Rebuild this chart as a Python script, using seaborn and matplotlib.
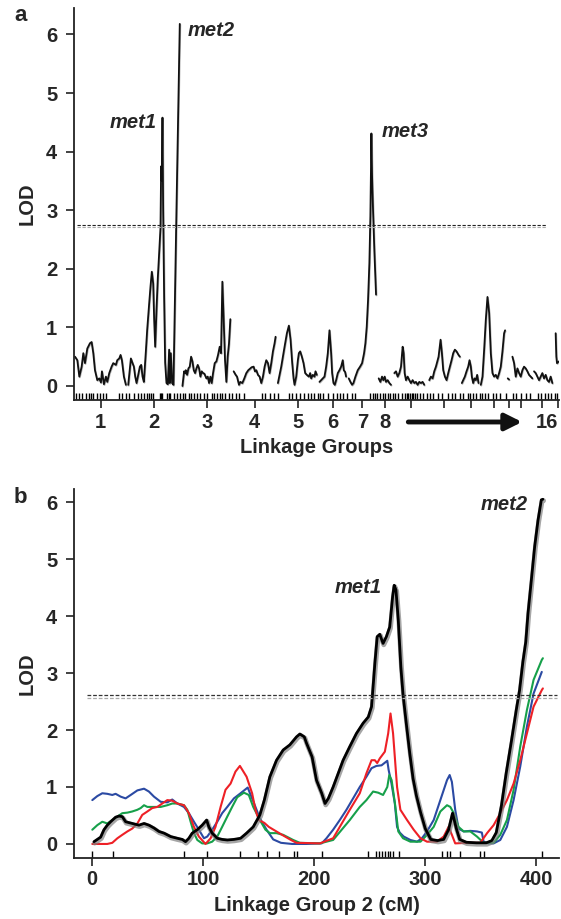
import pandas as pd
import matplotlib
matplotlib.use('Agg')
import matplotlib.pyplot as plt
import matplotlib.patheffects as pe
import seaborn as sns

# ---- panel a: genome scan, positions are cumulative map units ----
lg_pos = [
    [3, 10, 16, 23, 28, 33, 40, 48, 53, 58, 63, 70, 76, 81, 84, 90, 96, 100, 106, 113, 118, 126, 130, 136, 140, 144, 150, 156],
    [163, 168, 171, 176, 180, 184, 188, 192, 198, 202, 206, 210, 216, 220, 226, 230, 234, 238, 241, 244, 248, 252, 256, 260,
     262, 264, 266, 268, 271, 274, 278, 282, 286, 288, 291, 295, 299, 308, 318],
    [326, 331, 334, 336, 340, 344, 348, 352, 356, 360, 364, 368, 372, 376, 380, 384, 388, 392, 398, 402, 406, 410, 414, 418,
     423, 428, 433, 438, 442, 446, 450, 454, 458, 462, 466, 470],
    [480, 486, 490, 496, 500, 506, 512, 518, 524, 530, 534, 540, 544, 548, 553, 558, 563, 568, 573, 578, 583, 588, 593, 598, 603, 606],
    [613, 623, 633, 640, 646, 651, 656, 660, 663, 668, 673, 676, 680, 685, 690, 695, 700, 706, 710, 713, 718, 723, 726, 730],
    [738, 743, 748, 753, 758, 763, 768, 773, 776, 780, 784, 788, 793, 798, 803, 808, 811, 815, 818],
    [826, 831, 836, 840, 846, 853, 860, 866, 872, 876, 880, 884, 888, 891, 893, 894, 896, 897, 899, 903, 908],
    [916, 921, 926, 930, 934, 938, 943, 948, 953],
    [963, 968, 973, 978, 983, 988, 991, 994, 998, 1003, 1008, 1013, 1018, 1023, 1028, 1033, 1038, 1043, 1048, 1053],
    [1068, 1073, 1078, 1083, 1088, 1096, 1102, 1106, 1110, 1115, 1120, 1125, 1130, 1135, 1140, 1145, 1150, 1156, 1160],
    [1166, 1170, 1175, 1180, 1185, 1189, 1193, 1196, 1200, 1204, 1208, 1212, 1216],
    [1223, 1228, 1233, 1238, 1243, 1248, 1253, 1258, 1263, 1268, 1273, 1278, 1283, 1288, 1293, 1296],
    [1304, 1308],
    [1318, 1323, 1328, 1333, 1338, 1343, 1348, 1353, 1358, 1363, 1368, 1373, 1378],
    [1383, 1388, 1393, 1398, 1403, 1408, 1413, 1418, 1423, 1428, 1433, 1438],
    [1448, 1450, 1452, 1458],
]
lg_lod = [
    [0.50, 0.44, 0.16, 0.33, 0.56, 0.39, 0.64, 0.73, 0.75, 0.56, 0.27, 0.10, 0.13, 0.06, 0.25, 0.03, 0.16, 0.07, 0.22, 0.33,
     0.39, 0.36, 0.44, 0.47, 0.53, 0.44, 0.16, 0.02],
    [0.02, 0.30, 0.47, 0.39, 0.33, 0.16, 0.05, 0.16, 0.33, 0.36, 0.16, 0.07, 0.59, 0.96, 1.41, 1.70, 1.95, 1.75, 1.13, 0.67,
     1.30, 1.85, 2.27, 2.70, 3.75, 3.50, 4.58, 3.00, 1.50, 0.40, 0.05, 0.03, 0.62, 0.05, 0.56, 0.05, 0.02, 3.00, 6.18],
    [0.00, 0.25, 0.22, 0.27, 0.19, 0.30, 0.33, 0.50, 0.42, 0.27, 0.22, 0.30, 0.36, 0.30, 0.16, 0.25, 0.22, 0.21, 0.13, 0.16,
     0.05, 0.16, 0.05, 0.22, 0.39, 0.42, 0.53, 0.67, 0.56, 1.78, 1.12, 0.44, 0.07, 0.50, 0.73, 1.14],
    [0.25, 0.19, 0.16, 0.02, 0.07, 0.05, 0.13, 0.22, 0.27, 0.30, 0.32, 0.33, 0.25, 0.27, 0.19, 0.16, 0.05, 0.16, 0.33, 0.44,
     0.39, 0.22, 0.39, 0.59, 0.73, 0.84],
    [0.05, 0.33, 0.67, 0.90, 1.03, 0.79, 0.39, 0.13, 0.02, 0.16, 0.44, 0.56, 0.59, 0.50, 0.39, 0.22, 0.19, 0.16, 0.22, 0.13,
     0.19, 0.16, 0.25, 0.19],
    [0.07, 0.10, 0.13, 0.16, 0.33, 0.56, 0.95, 0.56, 0.22, 0.05, 0.02, 0.10, 0.22, 0.27, 0.33, 0.44, 0.27, 0.24, 0.16],
    [0.13, 0.07, 0.02, 0.05, 0.16, 0.27, 0.33, 0.39, 0.56, 0.73, 1.01, 1.47, 2.10, 2.90, 3.80, 4.31, 3.60, 3.37, 3.00, 2.30, 1.56],
    [0.13, 0.07, 0.16, 0.10, 0.16, 0.07, 0.10, 0.05, 0.02],
    [0.22, 0.25, 0.16, 0.22, 0.33, 0.67, 0.56, 0.22, 0.10, 0.16, 0.10, 0.05, 0.10, 0.05, 0.07, 0.02, 0.07, 0.05, 0.07, 0.02],
    [0.10, 0.16, 0.13, 0.25, 0.33, 0.50, 0.79, 0.56, 0.27, 0.16, 0.10, 0.22, 0.33, 0.44, 0.56, 0.62, 0.59, 0.53, 0.50],
    [0.05, 0.10, 0.16, 0.25, 0.33, 0.44, 0.33, 0.16, 0.05, 0.13, 0.10, 0.19, 0.05],
    [0.02, 0.16, 0.62, 1.13, 1.52, 1.25, 0.56, 0.22, 0.16, 0.19, 0.13, 0.22, 0.33, 0.59, 0.90, 0.95],
    [0.13, 0.11],
    [0.50, 0.39, 0.16, 0.30, 0.22, 0.16, 0.27, 0.33, 0.30, 0.25, 0.19, 0.16, 0.13],
    [0.25, 0.22, 0.16, 0.10, 0.16, 0.22, 0.13, 0.19, 0.10, 0.07, 0.16, 0.05],
    [0.90, 0.50, 0.39, 0.42],
]
lg_centres = [80, 240, 400, 543, 672, 779, 867, 935, 1012, 1112, 1195, 1262, 1307, 1345, 1407, 1455]
lg_labels = ['1', '2', '3', '4', '5', '6', '7', '8', '', '', '', '', '', '', '', '16']
markers_a = [5, 15, 25, 35, 45, 52, 58, 70, 78, 88, 95, 135, 145, 155, 165, 180, 192, 200, 210, 218, 225, 232, 238,
             258, 262, 265, 280, 285, 290, 300, 310, 320, 328, 335, 345, 352, 360, 370, 380, 390, 400, 415, 420, 430,
             438, 445, 455, 465, 475, 488, 495, 512, 565, 575, 590, 600, 612, 645, 655, 668, 680, 690, 702, 712, 722,
             735, 740, 750, 765, 780, 790, 800, 810, 820, 835, 845, 890, 898, 905, 912, 920, 928, 935, 945, 950, 960,
             965, 975, 985, 995, 1000, 1005, 1010, 1015, 1020, 1025, 1030, 1040, 1050, 1060, 1070, 1080, 1095, 1105,
             1125, 1135, 1145, 1160, 1170, 1185, 1190, 1200, 1210, 1220, 1228, 1235, 1245, 1260, 1270, 1280, 1300,
             1320, 1330, 1345, 1360, 1370, 1395, 1405, 1415, 1425, 1435, 1445, 1452]
threshold_a = [2.75, 2.72]

# ---- panel b: linkage group 2 ----
black_cm = [1.5, 4.5, 7.5, 10.5, 13.5, 16.5, 21, 24, 27, 30, 36, 42, 46.6, 51, 55.6, 60, 64.6, 70.6, 76.6, 81, 84, 87, 90,
            94.6, 99, 103, 105, 108, 112.6, 117, 121.6, 127.6, 133.6, 139, 145, 151, 155, 160, 166, 172, 178, 184, 187,
            191, 193, 198, 202, 206.7, 209.7, 212.7, 217, 221.6, 226, 232, 238, 244, 248.7, 251.6, 253, 254.6, 256.7,
            259, 262, 265, 268, 270.6, 272, 273.6, 275.7, 278, 280, 283, 286, 289, 292, 295.7, 300, 305, 311, 316.6,
            321, 324.6, 328, 331, 337, 346, 355, 360, 364, 368.7, 373, 377.6, 382, 385, 388, 390.6, 392.6, 395.6,
            398.6, 401.6, 404.6, 406]
black_lod = [0.04, 0.08, 0.12, 0.25, 0.33, 0.39, 0.47, 0.49, 0.48, 0.39, 0.36, 0.33, 0.36, 0.33, 0.28, 0.22, 0.19, 0.13,
             0.10, 0.08, 0.04, 0.10, 0.19, 0.25, 0.33, 0.42, 0.30, 0.19, 0.10, 0.08, 0.07, 0.08, 0.10, 0.19, 0.30, 0.51,
             0.77, 1.18, 1.47, 1.65, 1.74, 1.88, 1.93, 1.88, 1.77, 1.53, 1.12, 0.89, 0.71, 0.80, 1.00, 1.24, 1.47, 1.71,
             1.94, 2.12, 2.23, 2.41, 2.76, 3.17, 3.64, 3.68, 3.52, 3.64, 3.81, 4.34, 4.54, 4.46, 3.93, 3.11, 2.62, 2.10,
             1.60, 1.15, 0.85, 0.56, 0.27, 0.08, 0.06, 0.08, 0.25, 0.54, 0.27, 0.08, 0.03, 0.02, 0.02, 0.06, 0.20, 0.68,
             1.25, 1.80, 2.35, 2.70, 3.20, 3.55, 4.05, 4.63, 5.22, 5.68, 6.04, 6.05]
blue_cm = [0, 4.5, 9, 13.5, 18, 21, 25.6, 30, 34.6, 40.6, 46.6, 51, 55.6, 61.6, 67.6, 72, 76.6, 82.6, 87, 91.6, 96, 100.6,
           103.6, 108, 112.6, 117, 121.6, 127.6, 133.6, 140, 145, 151, 157, 163, 170, 180, 193, 206.7, 211, 217, 223,
           229, 235, 241, 247, 251.6, 256, 260.6, 265.8, 267, 269.6, 272.6, 274.6, 277, 280.6, 286.6, 292.6, 297,
           301.6, 307.6, 313.6, 319.6, 322, 324, 327, 330, 334.6, 340.6, 346.6, 351, 352.6, 357, 361.6, 367.6, 373.6,
           379.6, 385.6, 391.6, 397.6, 405]
blue_lod = [0.77, 0.84, 0.89, 0.88, 0.86, 0.88, 0.83, 0.80, 0.86, 0.94, 0.97, 0.92, 0.83, 0.74, 0.73, 0.78, 0.71, 0.65,
            0.54, 0.39, 0.25, 0.10, 0.13, 0.25, 0.39, 0.54, 0.65, 0.80, 0.89, 0.99, 0.75, 0.45, 0.25, 0.08, 0.02, 0.00,
            0.00, 0.01, 0.10, 0.25, 0.42, 0.60, 0.80, 1.00, 1.18, 1.33, 1.37, 1.38, 1.46, 1.30, 1.06, 0.71, 0.30, 0.20,
            0.13, 0.07, 0.04, 0.10, 0.22, 0.42, 0.77, 1.12, 1.21, 1.09, 0.60, 0.27, 0.22, 0.23, 0.22, 0.20, 0.04, 0.01,
            0.01, 0.07, 0.30, 0.77, 1.36, 2.06, 2.64, 3.02]
green_cm = [0, 4.5, 9, 13.5, 18, 22.6, 27, 31.6, 36, 40.6, 43.6, 46.6, 49.6, 55.6, 61.6, 67.6, 72, 76.6, 82.6, 85.6, 88.6,
            91.6, 94.6, 99, 103.6, 108, 112.6, 117, 121.6, 126, 130.6, 136.6, 141, 145, 151, 156, 160, 166, 172, 181,
            187, 205, 217, 232, 241, 247, 253, 257.6, 262, 265.8, 267.6, 269.7, 272.7, 275.7, 280, 286.6, 295.7, 301.6,
            307.6, 313.6, 319.6, 322.6, 325.7, 330, 334.6, 340.6, 346.6, 352.6, 361.6, 367.6, 373.6, 379.6, 385.6,
            391.6, 397.6, 405, 406]
green_lod = [0.25, 0.33, 0.39, 0.36, 0.42, 0.48, 0.54, 0.55, 0.57, 0.60, 0.63, 0.68, 0.65, 0.65, 0.65, 0.68, 0.71, 0.71,
             0.68, 0.60, 0.39, 0.19, 0.07, 0.01, 0.01, 0.04, 0.13, 0.30, 0.48, 0.65, 0.82, 0.90, 0.86, 0.65, 0.42, 0.25,
             0.19, 0.19, 0.16, 0.07, 0.02, 0.01, 0.07, 0.42, 0.65, 0.77, 0.92, 0.90, 0.86, 1.00, 1.21, 1.12, 0.71, 0.22,
             0.10, 0.04, 0.04, 0.16, 0.30, 0.57, 0.68, 0.65, 0.54, 0.30, 0.22, 0.22, 0.13, 0.02, 0.02, 0.16, 0.42, 0.95,
             1.71, 2.35, 2.88, 3.23, 3.26]
red_cm = [0, 4.5, 9, 13.5, 18, 22.6, 27, 31.6, 36, 40.6, 45, 49.6, 54, 58.6, 63, 67.6, 72, 76.6, 82.6, 87, 91.6, 96, 102,
          106.6, 111, 115.6, 120, 124.6, 129, 133, 139, 144, 147, 150, 155, 159, 165, 171, 179, 184, 205, 217, 232, 241,
          247, 251.6, 254.6, 256.7, 259, 263.6, 266.6, 268.7, 271, 274.6, 277.6, 283.6, 289.6, 295.7, 301.6, 310.6,
          316.6, 321, 324, 327, 337.6, 349.6, 355.7, 361.6, 367.6, 373.6, 379.6, 385.6, 391.6, 397.6, 405, 406]
red_lod = [0.00, 0.00, 0.00, 0.00, 0.02, 0.10, 0.16, 0.22, 0.27, 0.36, 0.51, 0.57, 0.63, 0.65, 0.71, 0.77, 0.76, 0.71,
           0.68, 0.54, 0.30, 0.13, 0.00, 0.10, 0.30, 0.65, 0.95, 1.06, 1.27, 1.37, 1.18, 0.89, 0.60, 0.42, 0.37, 0.30,
           0.23, 0.16, 0.07, 0.02, 0.01, 0.10, 0.60, 0.89, 1.24, 1.47, 1.47, 1.42, 1.50, 1.62, 1.94, 2.29, 1.94, 1.00,
           0.60, 0.42, 0.25, 0.10, 0.04, 0.04, 0.13, 0.30, 0.16, 0.01, 0.02, 0.02, 0.19, 0.33, 0.54, 0.77, 1.06, 1.47,
           1.94, 2.41, 2.70, 2.73]
markers_b = [0, 19, 83, 103, 133, 149.5, 157.7, 168, 182, 184, 206.6, 248, 256, 258.5, 261, 263.5, 266, 268.5, 271,
             276.6, 314.8, 320, 322, 331, 349, 353, 405]
threshold_b = [2.61, 2.57]

sns.set_style('ticks')
plt.rcParams['font.family'] = ['Liberation Sans', 'DejaVu Sans']
plt.rcParams['font.weight'] = 'bold'
plt.rcParams['axes.labelweight'] = 'bold'

fig = plt.figure(figsize=(5.61, 9.19), dpi=100)
ax_a = fig.add_axes([0.1319, 0.5647, 0.8645, 0.4265])
ax_b = fig.add_axes([0.1319, 0.0664, 0.8645, 0.4015])

shadow = [pe.SimpleLineShadow(offset=(0.4, -0.6), shadow_color='grey', alpha=0.6), pe.Normal()]
fs = 14.5

# panel a
rows = []
for lg, (xs, ys) in enumerate(zip(lg_pos, lg_lod), start=1):
    for x, y in zip(xs, ys):
        rows.append((lg, x, y))
df_a = pd.DataFrame(rows, columns=['lg', 'pos', 'lod'])
sns.lineplot(data=df_a, x='pos', y='lod', units='lg', estimator=None, sort=False,
             color='#111111', lw=1.3, ax=ax_a, path_effects=shadow)
sns.rugplot(x=markers_a, height=0.018, color='black', lw=0.7, ax=ax_a, expand_margins=False)
ax_a.axhline(threshold_a[0], xmin=0.006, xmax=0.975, color='#222222', ls=(0, (3, 1.5)), lw=0.8)
ax_a.axhline(threshold_a[1], xmin=0.006, xmax=0.975, color='#aaaaaa', ls=(0, (3, 1.5)), lw=0.8)
ax_a.set_xlim(0, 1458)
ax_a.set_ylim(-0.24, 6.45)
ax_a.set_xticks(lg_centres)
ax_a.set_xticklabels(lg_labels)
ax_a.get_xticklabels()[-1].set_horizontalalignment('right')
ax_a.set_yticks(range(0, 7))
ax_a.set_xlabel('Linkage Groups', fontsize=fs, labelpad=5)
ax_a.set_ylabel('LOD', fontsize=fs, labelpad=7)
ax_a.text(249, 4.5, 'met1', style='italic', fontsize=fs, ha='right', va='center')
ax_a.text(342, 6.07, 'met2', style='italic', fontsize=fs, ha='left', va='center')
ax_a.text(924, 4.35, 'met3', style='italic', fontsize=fs, ha='left', va='center')
ax_a.annotate('', xy=(1347, -0.056), xytext=(1005, -0.056), xycoords=('data', 'axes fraction'),
              textcoords=('data', 'axes fraction'), annotation_clip=False,
              arrowprops=dict(arrowstyle='-|>,head_length=1.0,head_width=0.5', lw=3.5, color='#111111',
                              shrinkA=0, shrinkB=0))

# panel b
for cm, lod, col in [(blue_cm, blue_lod, '#2b4aa3'), (green_cm, green_lod, '#16a04a'),
                     (red_cm, red_lod, '#ee2026')]:
    sns.lineplot(x=cm, y=lod, color=col, lw=1.5, ax=ax_b, sort=False)
sns.lineplot(x=black_cm, y=black_lod, color='black', lw=2.0, ax=ax_b, sort=False,
             path_effects=[pe.SimpleLineShadow(offset=(0.5, -1.0), shadow_color='grey', alpha=0.7, linewidth=3.5),
                           pe.Normal()])
sns.rugplot(x=markers_b, height=0.019, color='black', lw=0.7, ax=ax_b, expand_margins=False)
ax_b.axhline(threshold_b[0], xmin=0.026, xmax=0.995, color='#333333', ls=(0, (3, 1.5)), lw=0.9)
ax_b.axhline(threshold_b[1], xmin=0.026, xmax=0.995, color='#aaaaaa', ls=(0, (3, 1.5)), lw=0.9)
ax_b.set_xlim(-16.5, 420.5)
ax_b.set_ylim(-0.246, 6.23)
ax_b.set_xticks(range(0, 401, 100))
ax_b.set_yticks(range(0, 7))
ax_b.set_xlabel('Linkage Group 2 (cM)', fontsize=fs, labelpad=5)
ax_b.set_ylabel('LOD', fontsize=fs, labelpad=7)
ax_b.text(261, 4.5, 'met1', style='italic', fontsize=fs, ha='right', va='center')
ax_b.text(392.5, 5.95, 'met2', style='italic', fontsize=fs, ha='right', va='center')

for ax in (ax_a, ax_b):
    sns.despine(ax=ax)
    for s in ('left', 'bottom'):
        ax.spines[s].set_linewidth(1.3)
        ax.spines[s].set_color('#222222')
    ax.tick_params(axis='both', length=6, width=1.2, color='#222222', labelsize=fs, pad=3)
    ax.tick_params(axis='y', pad=6)
    for lab in ax.get_xticklabels() + ax.get_yticklabels():
        lab.set_fontweight('bold')

fig.text(0.025, 0.983, 'a', fontsize=16, fontweight='bold', ha='left', va='center')
fig.text(0.025, 0.459, 'b', fontsize=16, fontweight='bold', ha='left', va='center')

fig.savefig('out.png', dpi=100)
